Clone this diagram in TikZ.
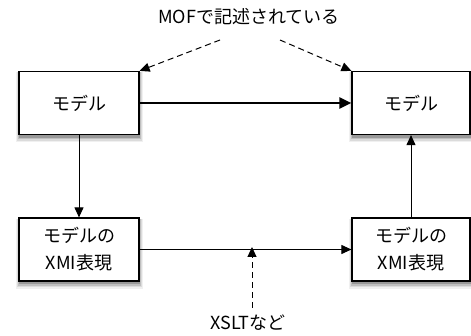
\documentclass[tikz,border=0pt]{standalone}
\usepackage{fontspec}
\setmainfont{Noto Sans CJK JP}
\usetikzlibrary{arrows.meta}
\newcommand{\boxshadow}[4]{% x1 y1 x2 y2 (top-left, bottom-right)
  \fill[black!6] (#1-3,#2+1) rectangle (#3+4,#4+8);
  \fill[black!14] (#1-2,#2+1) rectangle (#3+3,#4+6.5);
  \fill[black!25] (#1-1,#2+1) rectangle (#3+2,#4+5);
  \fill[black!40] (#1,#2+1) rectangle (#3+1,#4+3.5);
}
\begin{document}
\begin{tikzpicture}[x=1pt,y=-1pt,
  box/.style={draw,line width=1.2pt,fill=white,minimum width=120pt,minimum height=63pt,inner sep=0pt,align=center,font=\fontsize{18}{27}\selectfont},
  lbl/.style={font=\fontsize{18}{22}\selectfont},
  arr/.style={-{Triangle[length=10pt,width=9pt]},line width=1pt},
  dsh/.style={-{Triangle[length=10pt,width=9pt]},line width=1pt,dash pattern=on 6pt off 4pt}]
\useasboundingbox (0,0) rectangle (471,336);
\boxshadow{19}{71.5}{139}{134.5}
\boxshadow{352}{71.5}{470}{134.5}
\boxshadow{19}{218}{139}{281}
\boxshadow{352}{218}{470}{281}
\node[box] (a) at (79,103) {モデル};
\node[box,minimum width=118pt] (b) at (411,103) {モデル};
\node[box] (c) at (79,249.5) {モデルの\\XMI表現};
\node[box,minimum width=118pt] (d) at (411,249.5) {モデルの\\XMI表現};
\node[lbl] (mof) at (249,17) {MOFで記述されている};
\node[lbl] (xslt) at (248,323) {XSLTなど};
\coordinate (m1) at (220,40);
\coordinate (m2) at (280,40);
\coordinate (x1) at (252,308);
\coordinate (x2) at (252,250);
\draw[arr,line width=2.2pt,-{Triangle[length=12pt,width=11pt]}] (a.east) -- (b.west);
\draw[arr] (a.south) -- (c.north);
\draw[arr] (d.north) -- (d.north |- b.south);
\draw[arr] (c.east) -- (d.west);
\draw[dsh] (m1) -- (a.north east);
\draw[dsh] (m2) -- (b.north west);
\draw[dsh] (x1) -- ([yshift=3pt]x2);
\end{tikzpicture}
\end{document}
